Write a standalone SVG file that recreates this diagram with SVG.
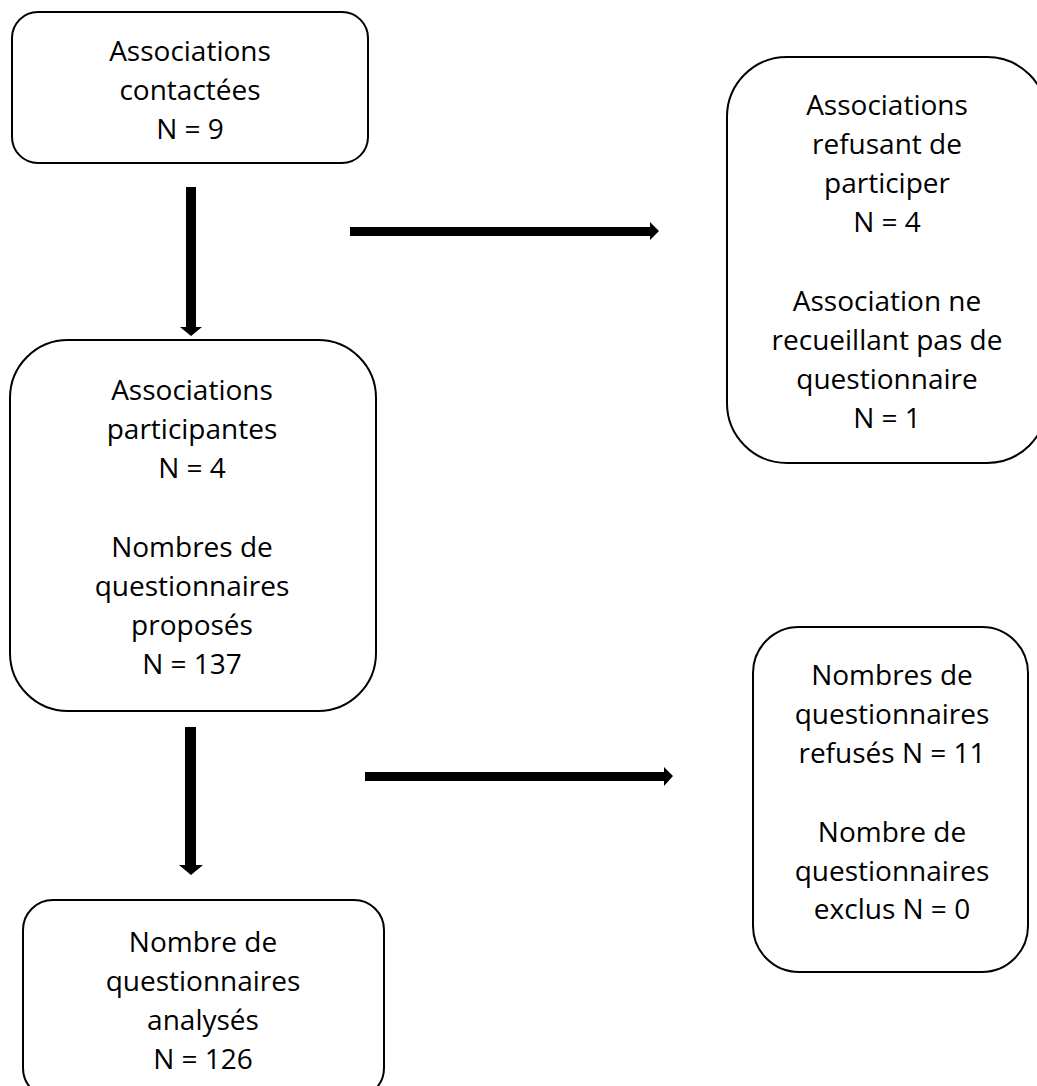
<svg xmlns="http://www.w3.org/2000/svg" width="1037" height="1086" viewBox="0 0 1037 1086">
<style>
.box{fill:#fff;stroke:#000;stroke-width:2}
.t{font-family:"Open Sans","Liberation Sans",sans-serif;font-size:28px;fill:#000;text-anchor:middle}
.arr{fill:#000}
</style>
<rect width="1037" height="1086" fill="#fff"/>
<g id="connectors">
<polygon class="arr" points="186,187 196,187 196,327 202,327 191,336 180,327 186,327"/>
<polygon class="arr" points="350,227 650,227 650,222 659,231 650,240 650,236 350,236"/>
<polygon class="arr" points="365,772 664,772 664,767 673,776 664,786 664,781 365,781"/>
<polygon class="arr" points="185,727 196,727 196,865 203,865 191,875 179,865 185,865"/>
</g>
<g id="n1">
<rect class="box" x="12" y="12" width="356" height="151" rx="26"/>
<text class="t"><tspan x="190" y="61">Associations</tspan><tspan x="190" y="100">contactées</tspan><tspan x="190" y="139">N = 9</tspan></text>
</g>
<g id="n2">
<rect class="box" x="10" y="340" width="366" height="371" rx="58"/>
<text class="t"><tspan x="192" y="400">Associations</tspan><tspan x="192" y="439">participantes</tspan><tspan x="192" y="478">N = 4</tspan><tspan x="192" y="557">Nombres de</tspan><tspan x="192" y="596">questionnaires</tspan><tspan x="192" y="635">proposés</tspan><tspan x="192" y="674">N = 137</tspan></text>
</g>
<g id="n3">
<rect class="box" x="727" y="57" width="320" height="406" rx="60"/>
<text class="t"><tspan x="887" y="115">Associations</tspan><tspan x="887" y="154">refusant de</tspan><tspan x="887" y="193">participer</tspan><tspan x="887" y="232">N = 4</tspan><tspan x="887" y="311">Association ne</tspan><tspan x="887" y="350">recueillant pas de</tspan><tspan x="887" y="389">questionnaire</tspan><tspan x="887" y="428">N = 1</tspan></text>
</g>
<g id="n4">
<rect class="box" x="753" y="627" width="275" height="345" rx="46"/>
<text class="t"><tspan x="892" y="685">Nombres de</tspan><tspan x="892" y="724">questionnaires</tspan><tspan x="892" y="763">refusés N = 11</tspan><tspan x="892" y="842">Nombre de</tspan><tspan x="892" y="881">questionnaires</tspan><tspan x="892" y="919">exclus N = 0</tspan></text>
</g>
<g id="n5">
<rect class="box" x="23" y="900" width="361" height="198" rx="30"/>
<text class="t"><tspan x="203" y="952">Nombre de</tspan><tspan x="203" y="991">questionnaires</tspan><tspan x="203" y="1030">analysés</tspan><tspan x="203" y="1069">N = 126</tspan></text>
</g>
</svg>
